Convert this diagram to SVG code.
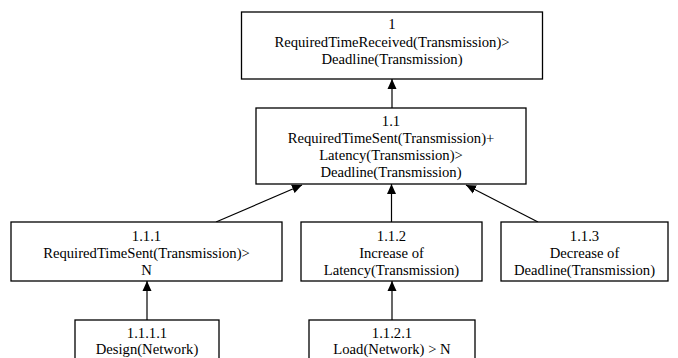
<svg xmlns="http://www.w3.org/2000/svg" width="678" height="358" viewBox="0 0 678 358">
<style>
.box{fill:#fff;stroke:#000;stroke-width:1.3}
text{font-family:"Liberation Serif","Times New Roman",serif;font-size:14.67px;fill:#000;text-anchor:middle}
.edge{stroke:#000;stroke-width:1.2;fill:none}
</style>
<defs>
<marker id="ah" viewBox="0 0 10 10" refX="10" refY="5" markerWidth="10" markerHeight="10" markerUnits="userSpaceOnUse" orient="auto">
<path d="M0,0.5 L10,5 L0,9.5 Z" fill="#000"/>
</marker>
</defs>
<rect width="678" height="358" fill="#fff"/>
<g id="connectors">
<line class="edge" x1="392" y1="108" x2="392" y2="79" marker-end="url(#ah)"/>
<line class="edge" x1="216" y1="222" x2="302" y2="185" marker-end="url(#ah)"/>
<line class="edge" x1="391.5" y1="222" x2="391.5" y2="184" marker-end="url(#ah)"/>
<line class="edge" x1="538" y1="222" x2="466" y2="185" marker-end="url(#ah)"/>
<line class="edge" x1="147" y1="320" x2="147" y2="281" marker-end="url(#ah)"/>
<line class="edge" x1="392" y1="320" x2="392" y2="281" marker-end="url(#ah)"/>
</g>
<g id="n1">
<rect class="box" x="241.5" y="12" width="301" height="67"/>
<text x="392" y="29">1</text>
<text x="392" y="46.5">RequiredTimeReceived(Transmission)&gt;</text>
<text x="392" y="64">Deadline(Transmission)</text>
</g>
<g id="n1_1">
<rect class="box" x="256" y="108" width="270" height="76"/>
<text x="391" y="126">1.1</text>
<text x="391" y="143">RequiredTimeSent(Transmission)+</text>
<text x="391" y="160">Latency(Transmission)&gt;</text>
<text x="391" y="177">Deadline(Transmission)</text>
</g>
<g id="n1_1_1">
<rect class="box" x="11" y="222" width="271" height="59"/>
<text x="146.5" y="240.5">1.1.1</text>
<text x="146.5" y="257.5">RequiredTimeSent(Transmission)&gt;</text>
<text x="146.5" y="274.5">N</text>
</g>
<g id="n1_1_2">
<rect class="box" x="301" y="222" width="181" height="59"/>
<text x="391.5" y="240.5">1.1.2</text>
<text x="391.5" y="257.5">Increase of</text>
<text x="391.5" y="274.5">Latency(Transmission)</text>
</g>
<g id="n1_1_3">
<rect class="box" x="501" y="222" width="167" height="59"/>
<text x="584.5" y="240.5">1.1.3</text>
<text x="584.5" y="257.5">Decrease of</text>
<text x="584.5" y="274.5">Deadline(Transmission)</text>
</g>
<g id="n1_1_1_1">
<rect class="box" x="75" y="320" width="144" height="50"/>
<text x="147" y="337.5">1.1.1.1</text>
<text x="147" y="354">Design(Network)</text>
</g>
<g id="n1_1_2_1">
<rect class="box" x="309" y="320" width="166" height="50"/>
<text x="392" y="337.5">1.1.2.1</text>
<text x="392" y="354">Load(Network) &gt; N</text>
</g>
</svg>
